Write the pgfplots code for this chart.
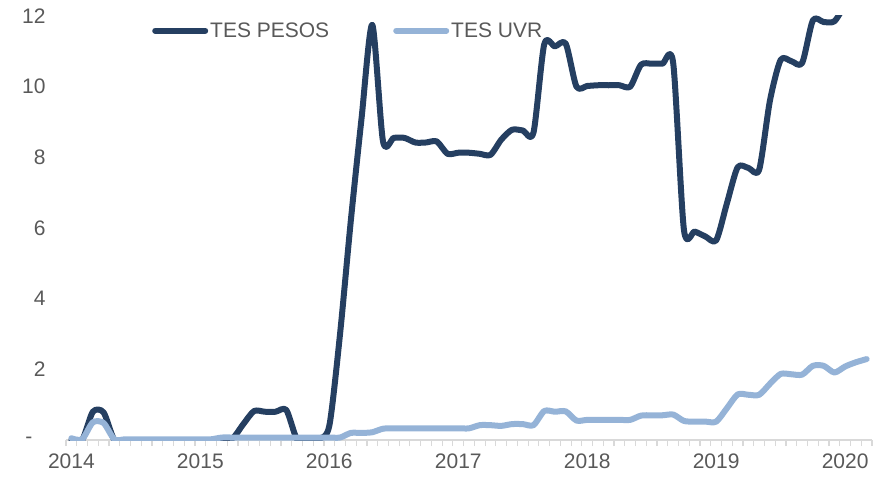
\documentclass[border=0pt]{standalone}
\usepackage{pgfplots}
\pgfplotsset{compat=1.18}
\usepackage{fontspec}
\setmainfont{Liberation Sans}
\definecolor{pesos}{HTML}{253F61}
\definecolor{uvr}{HTML}{95B3D7}
\definecolor{txt}{HTML}{595959}
\definecolor{axgray}{HTML}{D9D9D9}
\begin{document}
\begin{tikzpicture}
\path[use as bounding box] (0,0) rectangle (885pt,477pt);
\begin{axis}[
  at={(66pt,37pt)}, anchor=south west,
  scale only axis, width=806pt, height=424pt,
  xmin=-0.5, xmax=74.5, ymin=0, ymax=12,
  axis x line*=bottom, axis y line*=left,
  x axis line style={draw=axgray, line width=1.2pt, -},
  y axis line style={draw=none},
  xtick={0,12,24,36,48,60,72},
  xticklabels={2014,2015,2016,2017,2018,2019,2020},
  minor xtick={-0.5,0.5,...,74.5},
  tick align=outside,
  major tick length=0pt, minor tick length=6pt,
  minor tick style={draw=axgray, line width=1.2pt},
  ytick={2,4,6,8,10,12},
  yticklabels={2,4,6,8,10,12},
  extra y ticks={0},
  extra y tick labels={-},
  extra y tick style={yticklabel style={xshift=-13pt}},
  ytick style={draw=none},
  tick label style={font=\fontsize{21}{25}\selectfont, text=txt},
  xticklabel style={yshift=-10pt},
  yticklabel style={xshift=-17pt},
  legend style={at={(0.1067,0.9653)}, anchor=west, draw=none, fill=none,
    legend columns=2, inner sep=0pt,
    font=\fontsize{21}{25}\selectfont, text=txt,
    /tikz/every even column/.append style={column sep=62pt}},
  legend image code/.code={\draw[#1, line cap=round] (0pt,0pt) -- (50pt,0pt);},
  every axis plot/.append style={line width=6pt, smooth, tension=0.45, line join=round, line cap=round},
]
\addplot[pesos] coordinates {
(0,0) (1,0) (2,0.8) (3,0.78) (4,0) (5,0) (6,0) (7,0) (8,0) (9,0) (10,0) (11,0) (12,0) (13,0)
(14,0.05) (15,0.05) (16,0.45) (17,0.82) (18,0.8) (19,0.8) (20,0.85) (21,0.02) (22,0.03) (23,0.03)
(24,0.4) (25,3.0) (26,6.2) (27,9.1) (28,11.75) (29,8.45) (30,8.55) (31,8.55) (32,8.42) (33,8.42)
(34,8.45) (35,8.1) (36,8.13) (37,8.13) (38,8.1) (39,8.07) (40,8.5) (41,8.78) (42,8.76) (43,8.7)
(44,11.2) (45,11.14) (46,11.22) (47,10.0) (48,10.02) (49,10.04) (50,10.04) (51,10.04) (52,10.0)
(53,10.62) (54,10.65) (55,10.65) (56,10.67) (57,5.95) (58,5.9) (59,5.76) (60,5.65) (61,6.7)
(62,7.72) (63,7.7) (64,7.65) (65,9.6) (66,10.76) (67,10.72) (68,10.67) (69,11.88) (70,11.83)
(71,11.85) (72,12.3) (73,12.5) (74,12.7)
};
\addlegendentry{TES PESOS}
\addplot[uvr] coordinates {
(0,0.05) (1,0.02) (2,0.5) (3,0.48) (4,0.02) (5,0.02) (6,0.02) (7,0.02) (8,0.02) (9,0.02) (10,0.02)
(11,0.02) (12,0.02) (13,0.02) (14,0.07) (15,0.07) (16,0.07) (17,0.07) (18,0.07) (19,0.07) (20,0.07)
(21,0.07) (22,0.07) (23,0.07) (24,0.07) (25,0.07) (26,0.2) (27,0.2) (28,0.22) (29,0.32) (30,0.33)
(31,0.33) (32,0.33) (33,0.33) (34,0.33) (35,0.33) (36,0.33) (37,0.33) (38,0.42) (39,0.42) (40,0.4)
(41,0.45) (42,0.45) (43,0.42) (44,0.82) (45,0.8) (46,0.81) (47,0.55) (48,0.57) (49,0.57) (50,0.57)
(51,0.57) (52,0.57) (53,0.69) (54,0.7) (55,0.7) (56,0.72) (57,0.54) (58,0.52) (59,0.52) (60,0.52)
(61,0.9) (62,1.29) (63,1.28) (64,1.28) (65,1.59) (66,1.87) (67,1.86) (68,1.85) (69,2.1) (70,2.1)
(71,1.91) (72,2.08) (73,2.2) (74,2.29)
};
\addlegendentry{TES UVR}
\end{axis}
\end{tikzpicture}
\end{document}
